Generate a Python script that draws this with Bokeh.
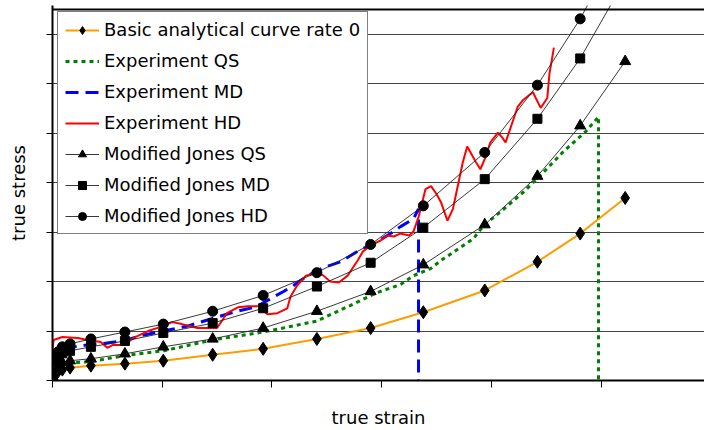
from bokeh.plotting import figure
from bokeh.models import Range1d, FixedTicker, Legend, LegendItem, Span, CustomJSTickFormatter
from bokeh.embed import file_html
from bokeh.resources import INLINE

# ---------------- data ----------------
# strain values at which the analytical / model curves are evaluated
model_strain = [0.0, 0.02, 0.05, 0.09, 0.16, 0.35, 0.66, 1.01, 1.46, 1.92, 2.41, 2.90, 3.38, 3.94, 4.42, 4.81, 5.22]

basic_stress = [0.04, 0.12, 0.18, 0.22, 0.26, 0.30, 0.34, 0.40, 0.52, 0.64, 0.84, 1.06, 1.38, 1.82, 2.40, 2.97, 3.69]
jones_qs_stress = [0.08, 0.20, 0.30, 0.36, 0.40, 0.44, 0.54, 0.68, 0.84, 1.06, 1.40, 1.80, 2.34, 3.15, 4.13, 5.15, 6.45]
jones_md_stress = [0.10, 0.30, 0.45, 0.55, 0.60, 0.68, 0.80, 0.96, 1.16, 1.46, 1.90, 2.38, 3.09, 4.07, 5.29, 6.51, 8.10]
jones_hd_stress = [0.12, 0.40, 0.58, 0.68, 0.74, 0.84, 0.98, 1.14, 1.40, 1.72, 2.18, 2.75, 3.53, 4.61, 5.97, 7.31, 9.00]

exp_qs_strain = [0.0, 0.027, 0.055, 0.164, 0.346, 0.647, 1.012, 1.459, 1.923, 2.407, 2.717, 2.963, 3.172,
                 3.291, 3.446, 3.537, 3.838, 3.929, 4.084, 4.294, 4.476, 4.658, 4.859, 4.977, 4.977]
exp_qs_stress = [0.06, 0.22, 0.32, 0.36, 0.38, 0.50, 0.60, 0.82, 0.98, 1.20, 1.52, 1.78, 1.94,
                 2.12, 2.26, 2.42, 2.87, 3.13, 3.41, 3.81, 4.21, 4.63, 5.03, 5.33, 0.0]

exp_md_strain = [0.0, 0.009, 0.055, 0.137, 0.319, 0.438, 0.647, 0.830, 1.012, 1.231, 1.468, 1.650, 1.869,
                 1.960, 2.106, 2.197, 2.325, 2.470, 2.625, 2.780, 2.963, 3.081, 3.172, 3.291, 3.336, 3.336]
exp_md_stress = [0.0, 0.56, 0.66, 0.66, 0.72, 0.74, 0.80, 0.92, 1.00, 1.10, 1.26, 1.38, 1.50,
                 1.62, 1.80, 1.92, 2.12, 2.28, 2.40, 2.61, 2.81, 2.97, 3.11, 3.27, 3.47, 0.0]

exp_hd_strain = [0.00, 0.01, 0.09, 0.23, 0.32, 0.44, 0.50, 0.55, 0.65, 0.74, 0.87, 1.01, 1.09, 1.18, 1.32,
                 1.50, 1.59, 1.69, 1.78, 1.88, 1.96, 2.05, 2.14, 2.17, 2.23, 2.31, 2.42, 2.47, 2.53, 2.61,
                 2.69, 2.78, 2.83, 2.90, 2.99, 3.05, 3.11, 3.17, 3.25, 3.29, 3.34, 3.40, 3.45, 3.50, 3.54,
                 3.60, 3.65, 3.74, 3.78, 3.86, 3.90, 3.95, 3.99, 4.06, 4.10, 4.13, 4.16, 4.20, 4.24, 4.29,
                 4.38, 4.40, 4.45, 4.51, 4.53, 4.54, 4.57]
exp_hd_stress = [0.62, 0.82, 0.88, 0.86, 0.82, 0.78, 0.66, 0.72, 0.72, 0.86, 1.00, 1.10, 1.18, 1.14, 1.06,
                 1.06, 1.36, 1.48, 1.50, 1.50, 1.34, 1.36, 1.46, 1.70, 1.92, 2.12, 2.18, 2.12, 2.00, 1.98,
                 2.12, 2.42, 2.61, 2.73, 2.83, 2.93, 2.91, 2.97, 2.93, 3.01, 3.33, 3.87, 3.93, 3.77, 3.61,
                 3.23, 3.47, 4.41, 4.73, 4.41, 4.27, 4.53, 4.81, 5.01, 4.91, 4.81, 5.01, 5.27, 5.53, 5.67,
                 5.83, 5.73, 5.51, 5.71, 6.21, 6.33, 6.73]

x_ticks = [0, 1, 2, 3, 4, 5]
y_ticks = [0, 1, 2, 3, 4, 5, 6, 7]
y_top_line = 7.5

legend_labels = ["Basic analytical curve rate 0", "Experiment QS", "Experiment MD", "Experiment HD",
                 "Modified Jones QS", "Modified Jones MD", "Modified Jones HD"]

FONT = "DejaVu Sans"

p = figure(width=704, height=430, output_backend="svg", toolbar_location=None,
           x_range=Range1d(0, 5.943), y_range=Range1d(0, 7.58),
           min_border_left=52, min_border_right=0, min_border_top=5, min_border_bottom=47)
p.outline_line_color = None
p.background_fill_color = "white"
p.border_fill_color = "white"

blank = CustomJSTickFormatter(code="return ''")

# axes
for ax, ticks, tick_out, lab, stand in ((p.xaxis[0], x_ticks, 7, "true strain", 19),
                                        (p.yaxis[0], y_ticks, 6, "true stress", 18)):
    ax.ticker = FixedTicker(ticks=ticks)
    ax.formatter = blank
    ax.major_tick_out = tick_out
    ax.major_tick_in = 0
    ax.minor_tick_line_color = None
    ax.major_tick_line_color = "black"
    ax.major_tick_line_width = 1
    ax.major_label_text_font_size = "1px"
    ax.major_label_standoff = 0
    ax.axis_line_color = "black"
    ax.axis_line_width = 2
    ax.axis_label = lab
    ax.axis_label_text_font = FONT
    ax.axis_label_text_font_size = "18px"
    ax.axis_label_text_font_style = "normal"
    ax.axis_label_text_color = "black"
    ax.axis_label_standoff = stand

p.xgrid.grid_line_color = None
p.ygrid.ticker = FixedTicker(ticks=y_ticks)
p.ygrid.grid_line_color = "#444444"
p.ygrid.grid_line_width = 1

p.add_layout(Span(location=y_top_line, dimension="width", line_color="black", line_width=2))

# experiments
r_qs = p.line(exp_qs_strain, exp_qs_stress, line_color="#008000", line_width=3, line_dash="4 4")
r_md = p.line(exp_md_strain, exp_md_stress, line_color="#0000FF", line_width=3, line_dash="13 7")
r_hd = p.line(exp_hd_strain, exp_hd_stress, line_color="#FF0000", line_width=2)

# models
r_b_l = p.line(model_strain, basic_stress, line_color="#FF9C00", line_width=2)
r_b_m = p.scatter(model_strain, basic_stress, marker="diamond", size=13,
                  fill_color="black", line_color="black")

r_jq_l = p.line(model_strain, jones_qs_stress, line_color="#222222", line_width=0.9)
r_jq_m = p.scatter(model_strain, jones_qs_stress, marker="triangle", size=11, fill_color="black", line_color="black")
r_jm_l = p.line(model_strain, jones_md_stress, line_color="#222222", line_width=0.9)
r_jm_m = p.scatter(model_strain, jones_md_stress, marker="square", size=9, fill_color="black", line_color="black")
r_jh_l = p.line(model_strain, jones_hd_stress, line_color="#222222", line_width=0.9)
r_jh_m = p.scatter(model_strain, jones_hd_stress, marker="circle", size=10, fill_color="black", line_color="black")

items = [
    LegendItem(label=legend_labels[0], renderers=[r_b_l, r_b_m]),
    LegendItem(label=legend_labels[1], renderers=[r_qs]),
    LegendItem(label=legend_labels[2], renderers=[r_md]),
    LegendItem(label=legend_labels[3], renderers=[r_hd]),
    LegendItem(label=legend_labels[4], renderers=[r_jq_l, r_jq_m]),
    LegendItem(label=legend_labels[5], renderers=[r_jm_l, r_jm_m]),
    LegendItem(label=legend_labels[6], renderers=[r_jh_l, r_jh_m]),
]
legend = Legend(items=items, location=(5, 146), orientation="vertical",
                label_text_font=FONT, label_text_font_size="18px", label_text_color="black",
                glyph_width=34, glyph_height=20, label_height=20, label_width=254,
                label_standoff=5, spacing=10, padding=7, margin=0,
                border_line_color="black", border_line_width=1,
                background_fill_color="white", background_fill_alpha=1.0)
p.add_layout(legend, "center")

open("out.html", "w").write(file_html(p, INLINE))
